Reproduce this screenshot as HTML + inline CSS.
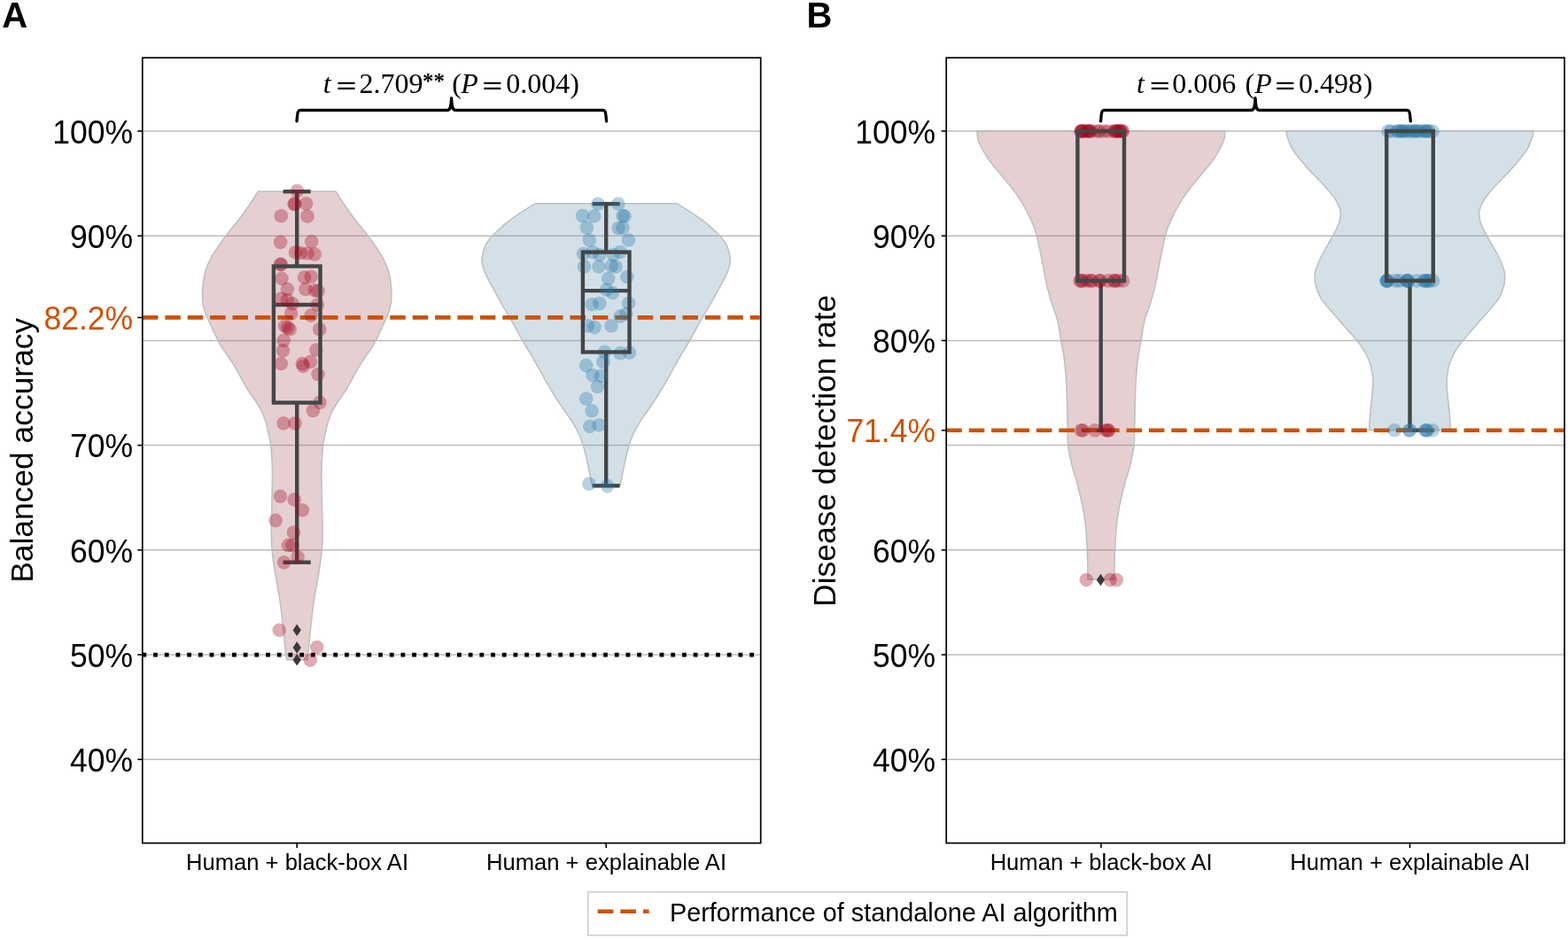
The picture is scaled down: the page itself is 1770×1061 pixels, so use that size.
<!DOCTYPE html><html><head><meta charset="utf-8"><title>Figure</title><style>html,body{margin:0;padding:0;background:#fff;overflow:hidden;width:1770px;height:1061px;}svg{display:block;}</style></head><body>
<svg width="1770" height="1061" viewBox="0 0 1770 1061">
<rect width="1770" height="1061" fill="#fff"/>
<g stroke="#bcbcbc" stroke-width="1.5"><line x1="161.8" y1="857.20" x2="857.7" y2="857.20"/><line x1="161.8" y1="739.00" x2="857.7" y2="739.00"/><line x1="161.8" y1="620.80" x2="857.7" y2="620.80"/><line x1="161.8" y1="502.60" x2="857.7" y2="502.60"/><line x1="161.8" y1="384.40" x2="857.7" y2="384.40"/><line x1="161.8" y1="266.20" x2="857.7" y2="266.20"/><line x1="161.8" y1="148.00" x2="857.7" y2="148.00"/></g>
<path d="M291.40,216.00 C289.85,218.40 285.70,225.17 282.10,230.40 C278.50,235.63 274.25,241.53 269.80,247.40 C265.35,253.27 259.65,259.95 255.40,265.60 C251.15,271.25 247.18,277.02 244.30,281.30 C241.42,285.58 239.98,287.75 238.10,291.30 C236.22,294.85 234.32,298.83 233.00,302.60 C231.68,306.37 230.90,310.13 230.20,313.90 C229.50,317.67 229.08,321.98 228.80,325.20 C228.52,328.42 228.47,330.37 228.50,333.20 C228.53,336.03 228.43,338.82 229.00,342.20 C229.57,345.58 230.57,349.73 231.90,353.50 C233.23,357.27 235.30,361.02 237.00,364.80 C238.70,368.58 240.60,372.98 242.10,376.20 C243.60,379.42 244.50,381.28 246.00,384.10 C247.50,386.92 249.17,390.07 251.10,393.10 C253.03,396.13 255.20,398.73 257.60,402.30 C260.00,405.87 263.05,410.42 265.50,414.50 C267.95,418.58 270.05,422.72 272.30,426.80 C274.55,430.88 276.45,434.92 279.00,439.00 C281.55,443.08 284.93,447.22 287.60,451.30 C290.27,455.38 292.95,459.42 295.00,463.50 C297.05,467.58 298.58,471.72 299.90,475.80 C301.22,479.88 301.98,483.92 302.90,488.00 C303.82,492.08 304.78,496.22 305.40,500.30 C306.02,504.38 306.27,507.55 306.60,512.50 C306.93,517.45 307.28,523.67 307.40,530.00 C307.52,536.33 307.43,542.05 307.30,550.50 C307.17,558.95 306.77,572.45 306.60,580.70 C306.43,588.95 306.23,593.52 306.30,600.00 C306.37,606.48 306.33,612.07 307.00,619.60 C307.67,627.13 308.87,635.90 310.30,645.20 C311.73,654.50 314.08,665.33 315.60,675.40 C317.12,685.47 318.27,695.55 319.40,705.60 C320.53,715.65 321.70,729.17 322.40,735.70 C323.10,742.23 323.40,743.28 323.60,744.80 L346.80,744.80 C347.00,743.28 347.30,742.23 348.00,735.70 C348.70,729.17 349.87,715.65 351.00,705.60 C352.13,695.55 353.28,685.47 354.80,675.40 C356.32,665.33 358.67,654.50 360.10,645.20 C361.53,635.90 362.73,627.13 363.40,619.60 C364.07,612.07 364.03,606.48 364.10,600.00 C364.17,593.52 363.97,588.95 363.80,580.70 C363.63,572.45 363.23,558.95 363.10,550.50 C362.97,542.05 362.88,536.33 363.00,530.00 C363.12,523.67 363.47,517.45 363.80,512.50 C364.13,507.55 364.38,504.38 365.00,500.30 C365.62,496.22 366.58,492.08 367.50,488.00 C368.42,483.92 369.18,479.88 370.50,475.80 C371.82,471.72 373.35,467.58 375.40,463.50 C377.45,459.42 380.13,455.38 382.80,451.30 C385.47,447.22 388.85,443.08 391.40,439.00 C393.95,434.92 395.85,430.88 398.10,426.80 C400.35,422.72 402.45,418.58 404.90,414.50 C407.35,410.42 410.40,405.87 412.80,402.30 C415.20,398.73 417.37,396.13 419.30,393.10 C421.23,390.07 422.90,386.92 424.40,384.10 C425.90,381.28 426.80,379.42 428.30,376.20 C429.80,372.98 431.70,368.58 433.40,364.80 C435.10,361.02 437.17,357.27 438.50,353.50 C439.83,349.73 440.83,345.58 441.40,342.20 C441.97,338.82 441.87,336.03 441.90,333.20 C441.93,330.37 441.88,328.42 441.60,325.20 C441.32,321.98 440.90,317.67 440.20,313.90 C439.50,310.13 438.72,306.37 437.40,302.60 C436.08,298.83 434.18,294.85 432.30,291.30 C430.42,287.75 428.98,285.58 426.10,281.30 C423.22,277.02 419.25,271.25 415.00,265.60 C410.75,259.95 405.05,253.27 400.60,247.40 C396.15,241.53 391.90,235.63 388.30,230.40 C384.70,225.17 380.55,218.40 379.00,216.00 Z" fill="rgb(170,95,102)" fill-opacity="0.30" stroke="#bfc1c1" stroke-width="1.6"/>
<path d="M603.90,229.80 C599.18,232.88 583.62,242.23 575.60,248.30 C567.58,254.37 560.37,261.48 555.80,266.20 C551.23,270.92 550.15,272.35 548.20,276.60 C546.25,280.85 544.42,286.98 544.10,291.70 C543.78,296.42 544.35,299.55 546.30,304.90 C548.25,310.25 552.50,317.52 555.80,323.80 C559.10,330.08 562.80,336.78 566.10,342.60 C569.40,348.42 571.67,351.77 575.60,358.70 C579.53,365.63 585.75,377.32 589.70,384.20 C593.65,391.08 596.28,394.85 599.30,400.00 C602.32,405.15 605.00,410.07 607.80,415.10 C610.60,420.13 613.20,425.18 616.10,430.20 C619.00,435.22 622.05,440.18 625.20,445.20 C628.35,450.22 631.62,455.27 635.00,460.30 C638.38,465.33 642.37,470.37 645.50,475.40 C648.63,480.43 651.67,485.98 653.80,490.50 C655.93,495.02 656.80,497.48 658.30,502.50 C659.80,507.52 661.53,515.07 662.80,520.60 C664.07,526.13 664.95,531.22 665.90,535.70 C666.85,540.18 668.07,545.53 668.50,547.50 L699.90,547.50 C700.33,545.53 701.55,540.18 702.50,535.70 C703.45,531.22 704.33,526.13 705.60,520.60 C706.87,515.07 708.60,507.52 710.10,502.50 C711.60,497.48 712.47,495.02 714.60,490.50 C716.73,485.98 719.77,480.43 722.90,475.40 C726.03,470.37 730.02,465.33 733.40,460.30 C736.78,455.27 740.05,450.22 743.20,445.20 C746.35,440.18 749.40,435.22 752.30,430.20 C755.20,425.18 757.80,420.13 760.60,415.10 C763.40,410.07 766.08,405.15 769.10,400.00 C772.12,394.85 774.75,391.08 778.70,384.20 C782.65,377.32 788.87,365.63 792.80,358.70 C796.73,351.77 799.00,348.42 802.30,342.60 C805.60,336.78 809.30,330.08 812.60,323.80 C815.90,317.52 820.15,310.25 822.10,304.90 C824.05,299.55 824.62,296.42 824.30,291.70 C823.98,286.98 822.15,280.85 820.20,276.60 C818.25,272.35 817.17,270.92 812.60,266.20 C808.03,261.48 800.82,254.37 792.80,248.30 C784.78,242.23 769.22,232.88 764.50,229.80 Z" fill="rgb(108,152,178)" fill-opacity="0.30" stroke="#bfc1c1" stroke-width="1.6"/>
<line x1="160.4" y1="739.20" x2="858.7" y2="739.20" stroke="#000" stroke-width="4.8" stroke-dasharray="4.8 7.9"/>
<g stroke="#434646" stroke-width="4.40" stroke-linecap="butt" stroke-linejoin="miter"><line x1="335.20" y1="216.20" x2="335.20" y2="300.50"/><line x1="319.70" y1="216.20" x2="350.70" y2="216.20"/><line x1="335.20" y1="454.50" x2="335.20" y2="634.70"/><line x1="319.70" y1="634.70" x2="350.70" y2="634.70"/><line x1="308.90" y1="344.00" x2="361.50" y2="344.00"/></g>
<g stroke="#434646" stroke-width="4.40" stroke-linecap="butt" stroke-linejoin="miter"><line x1="684.20" y1="230.10" x2="684.20" y2="284.60"/><line x1="668.70" y1="230.10" x2="699.70" y2="230.10"/><line x1="684.20" y1="397.40" x2="684.20" y2="548.30"/><line x1="668.70" y1="548.30" x2="699.70" y2="548.30"/><line x1="657.90" y1="328.10" x2="710.50" y2="328.10"/></g>
<line x1="160.9" y1="358.40" x2="857.7" y2="358.40" stroke="#cd5203" stroke-width="4.6" stroke-dasharray="17.5 7.9"/>
<path d="M335.20,704.50 L339.80,711.30 L335.20,718.10 L330.60,711.30 Z" fill="#3a3a3a"/>
<path d="M335.20,724.10 L339.80,730.90 L335.20,737.70 L330.60,730.90 Z" fill="#3a3a3a"/>
<path d="M335.20,738.00 L339.80,744.80 L335.20,751.60 L330.60,744.80 Z" fill="#3a3a3a"/>
<g fill="rgb(162,2,28)" fill-opacity="0.33"><circle cx="335.4" cy="215.5" r="7.8"/><circle cx="332.2" cy="230.4" r="7.8"/><circle cx="332.6" cy="230.0" r="7.8"/><circle cx="345.6" cy="229.7" r="7.8"/><circle cx="317.3" cy="243.8" r="7.8"/><circle cx="347.0" cy="244.1" r="7.8"/><circle cx="316.6" cy="273.4" r="7.8"/><circle cx="351.7" cy="272.7" r="7.8"/><circle cx="333.6" cy="284.7" r="7.8"/><circle cx="339.5" cy="285.5" r="7.8"/><circle cx="347.0" cy="286.0" r="7.8"/><circle cx="355.2" cy="286.9" r="7.8"/><circle cx="316.6" cy="298.2" r="7.8"/><circle cx="317.2" cy="298.6" r="7.8"/><circle cx="318.0" cy="314.4" r="7.8"/><circle cx="343.5" cy="313.0" r="7.8"/><circle cx="351.2" cy="312.3" r="7.8"/><circle cx="324.4" cy="326.4" r="7.8"/><circle cx="344.9" cy="326.4" r="7.8"/><circle cx="355.5" cy="327.8" r="7.8"/><circle cx="359.0" cy="328.5" r="7.8"/><circle cx="317.3" cy="337.1" r="7.8"/><circle cx="324.4" cy="338.5" r="7.8"/><circle cx="330.0" cy="342.7" r="7.8"/><circle cx="358.3" cy="344.1" r="7.8"/><circle cx="328.6" cy="354.0" r="7.8"/><circle cx="351.2" cy="356.1" r="7.8"/><circle cx="321.6" cy="368.1" r="7.8"/><circle cx="324.7" cy="369.7" r="7.8"/><circle cx="327.2" cy="371.7" r="7.8"/><circle cx="360.8" cy="371.7" r="7.8"/><circle cx="320.2" cy="384.4" r="7.8"/><circle cx="319.5" cy="395.7" r="7.8"/><circle cx="356.9" cy="395.0" r="7.8"/><circle cx="317.3" cy="410.5" r="7.8"/><circle cx="341.4" cy="410.5" r="7.8"/><circle cx="342.3" cy="413.3" r="7.8"/><circle cx="350.5" cy="408.4" r="7.8"/><circle cx="359.0" cy="422.5" r="7.8"/><circle cx="361.1" cy="454.3" r="7.8"/><circle cx="353.4" cy="463.5" r="7.8"/><circle cx="320.1" cy="477.8" r="7.8"/><circle cx="333.0" cy="477.8" r="7.8"/><circle cx="316.4" cy="560.3" r="7.8"/><circle cx="332.2" cy="564.1" r="7.8"/><circle cx="341.3" cy="575.8" r="7.8"/><circle cx="311.1" cy="587.4" r="7.8"/><circle cx="331.4" cy="601.0" r="7.8"/><circle cx="325.4" cy="615.4" r="7.8"/><circle cx="330.0" cy="615.4" r="7.8"/><circle cx="336.0" cy="628.7" r="7.8"/><circle cx="320.6" cy="634.7" r="7.8"/><circle cx="315.2" cy="711.3" r="7.8"/><circle cx="357.8" cy="730.5" r="7.8"/><circle cx="350.3" cy="745.1" r="7.8"/></g>
<g fill="rgb(35,118,168)" fill-opacity="0.33"><circle cx="675.0" cy="230.1" r="7.8"/><circle cx="697.8" cy="230.1" r="7.8"/><circle cx="657.6" cy="243.6" r="7.8"/><circle cx="670.7" cy="244.0" r="7.8"/><circle cx="703.0" cy="243.6" r="7.8"/><circle cx="705.0" cy="244.0" r="7.8"/><circle cx="662.4" cy="257.1" r="7.8"/><circle cx="698.1" cy="257.5" r="7.8"/><circle cx="703.0" cy="257.1" r="7.8"/><circle cx="665.3" cy="271.0" r="7.8"/><circle cx="709.4" cy="271.0" r="7.8"/><circle cx="658.5" cy="286.5" r="7.8"/><circle cx="669.2" cy="284.6" r="7.8"/><circle cx="676.9" cy="287.5" r="7.8"/><circle cx="692.3" cy="287.5" r="7.8"/><circle cx="700.1" cy="284.6" r="7.8"/><circle cx="659.5" cy="301.0" r="7.8"/><circle cx="675.9" cy="301.0" r="7.8"/><circle cx="690.4" cy="300.0" r="7.8"/><circle cx="695.2" cy="301.0" r="7.8"/><circle cx="707.8" cy="312.6" r="7.8"/><circle cx="686.6" cy="314.5" r="7.8"/><circle cx="684.6" cy="327.1" r="7.8"/><circle cx="691.4" cy="330.6" r="7.8"/><circle cx="668.2" cy="343.5" r="7.8"/><circle cx="676.9" cy="342.6" r="7.8"/><circle cx="709.7" cy="342.2" r="7.8"/><circle cx="700.1" cy="357.1" r="7.8"/><circle cx="706.8" cy="354.2" r="7.8"/><circle cx="663.4" cy="367.7" r="7.8"/><circle cx="671.1" cy="369.6" r="7.8"/><circle cx="690.0" cy="367.7" r="7.8"/><circle cx="682.5" cy="397.2" r="7.8"/><circle cx="700.1" cy="398.8" r="7.8"/><circle cx="710.5" cy="398.0" r="7.8"/><circle cx="680.9" cy="408.4" r="7.8"/><circle cx="661.7" cy="412.4" r="7.8"/><circle cx="668.9" cy="423.6" r="7.8"/><circle cx="678.5" cy="424.4" r="7.8"/><circle cx="674.5" cy="436.5" r="7.8"/><circle cx="661.7" cy="450.1" r="7.8"/><circle cx="668.1" cy="463.7" r="7.8"/><circle cx="665.7" cy="481.3" r="7.8"/><circle cx="676.1" cy="479.7" r="7.8"/><circle cx="664.9" cy="546.2" r="7.8"/><circle cx="685.7" cy="548.6" r="7.8"/></g>
<g stroke="#434646" stroke-width="4.40" stroke-linejoin="miter"><rect x="308.90" y="300.50" width="52.60" height="154.00" fill="none"/></g>
<g stroke="#434646" stroke-width="4.40" stroke-linejoin="miter"><rect x="657.90" y="284.60" width="52.60" height="112.80" fill="none"/></g>
<rect x="160.80" y="65.20" width="697.90" height="886.40" fill="none" stroke="#000" stroke-width="1.7"/>
<g stroke="#000" stroke-width="1.6"><line x1="155.3" y1="857.20" x2="160.8" y2="857.20"/><line x1="155.3" y1="739.00" x2="160.8" y2="739.00"/><line x1="155.3" y1="620.80" x2="160.8" y2="620.80"/><line x1="155.3" y1="502.60" x2="160.8" y2="502.60"/><line x1="155.3" y1="266.20" x2="160.8" y2="266.20"/><line x1="155.3" y1="148.00" x2="160.8" y2="148.00"/><line x1="155.3" y1="358.40" x2="160.8" y2="358.40"/><line x1="335.20" y1="951.60" x2="335.20" y2="957.10"/><line x1="684.20" y1="951.60" x2="684.20" y2="957.10"/></g>
<g font-family="'Liberation Sans', Arial, Helvetica, sans-serif" font-size="35.5" text-anchor="end" fill="#000"><text transform="translate(150.1,870.90) scale(1,1.065)">40%</text><text transform="translate(150.1,752.70) scale(1,1.065)">50%</text><text transform="translate(150.1,634.50) scale(1,1.065)">60%</text><text transform="translate(150.1,516.30) scale(1,1.065)">70%</text><text transform="translate(150.1,279.90) scale(1,1.065)">90%</text><text transform="translate(150.1,161.70) scale(1,1.065)">100%</text></g>
<text transform="translate(150.1,372.10) scale(1,1.065)" font-family="'Liberation Sans', Arial, Helvetica, sans-serif" font-size="35.5" text-anchor="end" fill="#cd5203">82.2%</text>
<g font-family="'Liberation Sans', Arial, Helvetica, sans-serif" font-size="25.6" text-anchor="middle" fill="#000"><text x="335.5" y="982.0">Human + black-box AI</text><text x="684.5" y="982.0">Human + explainable AI</text></g>
<text transform="translate(36.9,508.3) rotate(-90)" font-family="'Liberation Sans', Arial, Helvetica, sans-serif" font-size="35.4" text-anchor="middle" fill="#000">Balanced accuracy</text>
<text x="2.2" y="31.4" font-family="'Liberation Sans', Arial, Helvetica, sans-serif" font-size="40" font-weight="bold" fill="#000">A</text>
<g stroke="#bcbcbc" stroke-width="1.5"><line x1="1069.2" y1="857.20" x2="1765.0" y2="857.20"/><line x1="1069.2" y1="739.00" x2="1765.0" y2="739.00"/><line x1="1069.2" y1="620.80" x2="1765.0" y2="620.80"/><line x1="1069.2" y1="502.60" x2="1765.0" y2="502.60"/><line x1="1069.2" y1="384.40" x2="1765.0" y2="384.40"/><line x1="1069.2" y1="266.20" x2="1765.0" y2="266.20"/><line x1="1069.2" y1="148.00" x2="1765.0" y2="148.00"/></g>
<path d="M1102.90,147.80 C1103.22,149.78 1102.67,154.42 1104.80,159.70 C1106.93,164.98 1111.23,172.90 1115.70,179.50 C1120.17,186.10 1126.32,192.70 1131.60,199.30 C1136.88,205.90 1142.78,212.50 1147.40,219.10 C1152.02,225.70 1155.83,232.30 1159.30,238.90 C1162.77,245.50 1165.90,252.10 1168.20,258.70 C1170.50,265.30 1171.62,271.92 1173.10,278.50 C1174.58,285.08 1175.82,291.62 1177.10,298.20 C1178.38,304.78 1179.23,311.03 1180.80,318.00 C1182.37,324.97 1184.32,332.63 1186.50,340.00 C1188.68,347.37 1192.05,354.87 1193.90,362.20 C1195.75,369.53 1196.38,377.10 1197.60,384.00 C1198.82,390.90 1200.27,396.87 1201.20,403.60 C1202.13,410.33 1202.68,417.48 1203.20,424.40 C1203.72,431.32 1204.05,438.20 1204.30,445.10 C1204.55,452.00 1204.53,458.88 1204.70,465.80 C1204.87,472.72 1205.13,480.48 1205.30,486.60 C1205.47,492.72 1204.88,495.97 1205.70,502.50 C1206.52,509.03 1208.57,518.93 1210.20,525.80 C1211.83,532.67 1213.87,537.72 1215.50,543.70 C1217.13,549.68 1218.65,555.72 1220.00,561.70 C1221.35,567.68 1222.62,573.63 1223.60,579.60 C1224.58,585.57 1225.30,590.63 1225.90,597.50 C1226.50,604.37 1226.90,614.83 1227.20,620.80 C1227.50,626.77 1227.57,627.78 1227.70,633.30 C1227.83,638.82 1227.95,650.47 1228.00,653.90 L1257.80,653.90 C1257.85,650.47 1257.97,638.82 1258.10,633.30 C1258.23,627.78 1258.30,626.77 1258.60,620.80 C1258.90,614.83 1259.30,604.37 1259.90,597.50 C1260.50,590.63 1261.22,585.57 1262.20,579.60 C1263.18,573.63 1264.45,567.68 1265.80,561.70 C1267.15,555.72 1268.67,549.68 1270.30,543.70 C1271.93,537.72 1273.97,532.67 1275.60,525.80 C1277.23,518.93 1279.28,509.03 1280.10,502.50 C1280.92,495.97 1280.33,492.72 1280.50,486.60 C1280.67,480.48 1280.93,472.72 1281.10,465.80 C1281.27,458.88 1281.25,452.00 1281.50,445.10 C1281.75,438.20 1282.08,431.32 1282.60,424.40 C1283.12,417.48 1283.67,410.33 1284.60,403.60 C1285.53,396.87 1286.98,390.90 1288.20,384.00 C1289.42,377.10 1290.05,369.53 1291.90,362.20 C1293.75,354.87 1297.12,347.37 1299.30,340.00 C1301.48,332.63 1303.43,324.97 1305.00,318.00 C1306.57,311.03 1307.42,304.78 1308.70,298.20 C1309.98,291.62 1311.22,285.08 1312.70,278.50 C1314.18,271.92 1315.30,265.30 1317.60,258.70 C1319.90,252.10 1323.03,245.50 1326.50,238.90 C1329.97,232.30 1333.78,225.70 1338.40,219.10 C1343.02,212.50 1348.92,205.90 1354.20,199.30 C1359.48,192.70 1365.63,186.10 1370.10,179.50 C1374.57,172.90 1378.87,164.98 1381.00,159.70 C1383.13,154.42 1382.58,149.78 1382.90,147.80 Z" fill="rgb(170,95,102)" fill-opacity="0.30" stroke="#bfc1c1" stroke-width="1.6"/>
<path d="M1452.30,147.80 C1452.40,148.78 1451.65,150.07 1452.90,153.70 C1454.15,157.33 1456.02,163.65 1459.80,169.60 C1463.58,175.55 1469.83,182.80 1475.60,189.40 C1481.37,196.00 1489.12,203.27 1494.40,209.20 C1499.68,215.13 1504.17,220.07 1507.30,225.00 C1510.43,229.93 1512.55,234.18 1513.20,238.80 C1513.85,243.42 1512.85,247.75 1511.20,252.70 C1509.55,257.65 1506.63,262.28 1503.30,268.50 C1499.97,274.72 1494.17,284.07 1491.20,290.00 C1488.23,295.93 1486.68,300.10 1485.50,304.10 C1484.32,308.10 1483.98,310.47 1484.10,314.00 C1484.22,317.53 1485.02,321.53 1486.20,325.30 C1487.38,329.07 1488.72,332.60 1491.20,336.60 C1493.68,340.60 1497.80,345.30 1501.10,349.30 C1504.40,353.30 1507.72,356.83 1511.00,360.60 C1514.28,364.37 1517.52,368.13 1520.80,371.90 C1524.08,375.67 1527.63,379.43 1530.70,383.20 C1533.77,386.97 1536.83,390.73 1539.20,394.50 C1541.57,398.27 1543.37,402.03 1544.90,405.80 C1546.43,409.57 1547.58,412.87 1548.40,417.10 C1549.22,421.33 1549.70,426.50 1549.80,431.20 C1549.90,435.90 1549.47,439.97 1549.00,445.30 C1548.53,450.63 1547.55,457.23 1547.00,463.20 C1546.45,469.17 1545.95,477.37 1545.70,481.10 C1545.45,484.83 1545.53,484.85 1545.50,485.60 L1637.50,485.60 C1637.47,484.85 1637.55,484.83 1637.30,481.10 C1637.05,477.37 1636.55,469.17 1636.00,463.20 C1635.45,457.23 1634.47,450.63 1634.00,445.30 C1633.53,439.97 1633.10,435.90 1633.20,431.20 C1633.30,426.50 1633.78,421.33 1634.60,417.10 C1635.42,412.87 1636.57,409.57 1638.10,405.80 C1639.63,402.03 1641.43,398.27 1643.80,394.50 C1646.17,390.73 1649.23,386.97 1652.30,383.20 C1655.37,379.43 1658.92,375.67 1662.20,371.90 C1665.48,368.13 1668.72,364.37 1672.00,360.60 C1675.28,356.83 1678.60,353.30 1681.90,349.30 C1685.20,345.30 1689.32,340.60 1691.80,336.60 C1694.28,332.60 1695.62,329.07 1696.80,325.30 C1697.98,321.53 1698.78,317.53 1698.90,314.00 C1699.02,310.47 1698.68,308.10 1697.50,304.10 C1696.32,300.10 1694.77,295.93 1691.80,290.00 C1688.83,284.07 1683.03,274.72 1679.70,268.50 C1676.37,262.28 1673.45,257.65 1671.80,252.70 C1670.15,247.75 1669.15,243.42 1669.80,238.80 C1670.45,234.18 1672.57,229.93 1675.70,225.00 C1678.83,220.07 1683.32,215.13 1688.60,209.20 C1693.88,203.27 1701.63,196.00 1707.40,189.40 C1713.17,182.80 1719.42,175.55 1723.20,169.60 C1726.98,163.65 1728.85,157.33 1730.10,153.70 C1731.35,150.07 1730.60,148.78 1730.70,147.80 Z" fill="rgb(108,152,178)" fill-opacity="0.30" stroke="#bfc1c1" stroke-width="1.6"/>
<g stroke="#434646" stroke-width="4.40" stroke-linecap="butt" stroke-linejoin="miter"><line x1="1242.70" y1="316.86" x2="1242.70" y2="485.71"/><line x1="1227.20" y1="485.71" x2="1258.20" y2="485.71"/></g>
<g stroke="#434646" stroke-width="4.40" stroke-linecap="butt" stroke-linejoin="miter"><line x1="1591.50" y1="316.86" x2="1591.50" y2="485.71"/><line x1="1576.00" y1="485.71" x2="1607.00" y2="485.71"/></g>
<line x1="1068.3" y1="485.71" x2="1765.0" y2="485.71" stroke="#cd5203" stroke-width="4.6" stroke-dasharray="17.5 7.9"/>
<path d="M1242.40,647.77 L1247.00,654.57 L1242.40,661.37 L1237.80,654.57 Z" fill="#3a3a3a"/>
<g fill="rgb(162,2,28)" fill-opacity="0.33"><circle cx="1220.0" cy="148.0" r="7.8"/><circle cx="1220.5" cy="148.0" r="7.8"/><circle cx="1221.0" cy="148.0" r="7.8"/><circle cx="1222.0" cy="148.0" r="7.8"/><circle cx="1224.0" cy="148.0" r="7.8"/><circle cx="1226.5" cy="148.0" r="7.8"/><circle cx="1228.5" cy="148.0" r="7.8"/><circle cx="1229.5" cy="148.0" r="7.8"/><circle cx="1230.0" cy="148.0" r="7.8"/><circle cx="1232.0" cy="148.0" r="7.8"/><circle cx="1238.0" cy="148.0" r="7.8"/><circle cx="1241.0" cy="148.0" r="7.8"/><circle cx="1246.0" cy="148.0" r="7.8"/><circle cx="1251.0" cy="148.0" r="7.8"/><circle cx="1257.5" cy="148.0" r="7.8"/><circle cx="1259.0" cy="148.0" r="7.8"/><circle cx="1260.0" cy="148.0" r="7.8"/><circle cx="1261.0" cy="148.0" r="7.8"/><circle cx="1263.0" cy="148.0" r="7.8"/><circle cx="1264.0" cy="148.0" r="7.8"/><circle cx="1265.0" cy="148.0" r="7.8"/><circle cx="1266.5" cy="148.0" r="7.8"/><circle cx="1267.5" cy="148.0" r="7.8"/><circle cx="1219.0" cy="316.9" r="7.8"/><circle cx="1220.5" cy="316.9" r="7.8"/><circle cx="1222.0" cy="316.9" r="7.8"/><circle cx="1227.0" cy="316.9" r="7.8"/><circle cx="1231.5" cy="316.9" r="7.8"/><circle cx="1232.5" cy="316.9" r="7.8"/><circle cx="1241.0" cy="316.9" r="7.8"/><circle cx="1242.0" cy="316.9" r="7.8"/><circle cx="1250.8" cy="316.9" r="7.8"/><circle cx="1257.5" cy="316.9" r="7.8"/><circle cx="1258.5" cy="316.9" r="7.8"/><circle cx="1262.0" cy="316.9" r="7.8"/><circle cx="1267.6" cy="316.9" r="7.8"/><circle cx="1220.5" cy="485.7" r="7.8"/><circle cx="1222.5" cy="485.7" r="7.8"/><circle cx="1236.0" cy="485.7" r="7.8"/><circle cx="1248.5" cy="485.7" r="7.8"/><circle cx="1250.5" cy="485.7" r="7.8"/><circle cx="1251.5" cy="485.7" r="7.8"/><circle cx="1226.3" cy="654.6" r="7.8"/><circle cx="1253.2" cy="654.6" r="7.8"/><circle cx="1260.3" cy="654.6" r="7.8"/></g>
<g fill="rgb(35,118,168)" fill-opacity="0.33"><circle cx="1567.0" cy="148.0" r="7.8"/><circle cx="1570.2" cy="148.0" r="7.8"/><circle cx="1577.0" cy="148.0" r="7.8"/><circle cx="1578.0" cy="148.0" r="7.8"/><circle cx="1581.7" cy="148.0" r="7.8"/><circle cx="1582.5" cy="148.0" r="7.8"/><circle cx="1584.0" cy="148.0" r="7.8"/><circle cx="1587.0" cy="148.0" r="7.8"/><circle cx="1590.0" cy="148.0" r="7.8"/><circle cx="1592.0" cy="148.0" r="7.8"/><circle cx="1596.0" cy="148.0" r="7.8"/><circle cx="1597.5" cy="148.0" r="7.8"/><circle cx="1598.5" cy="148.0" r="7.8"/><circle cx="1602.0" cy="148.0" r="7.8"/><circle cx="1604.0" cy="148.0" r="7.8"/><circle cx="1608.5" cy="148.0" r="7.8"/><circle cx="1609.5" cy="148.0" r="7.8"/><circle cx="1611.0" cy="148.0" r="7.8"/><circle cx="1613.0" cy="148.0" r="7.8"/><circle cx="1617.0" cy="148.0" r="7.8"/><circle cx="1565.0" cy="316.9" r="7.8"/><circle cx="1565.3" cy="316.9" r="7.8"/><circle cx="1565.8" cy="316.9" r="7.8"/><circle cx="1566.5" cy="316.9" r="7.8"/><circle cx="1575.5" cy="316.9" r="7.8"/><circle cx="1580.0" cy="316.9" r="7.8"/><circle cx="1588.0" cy="316.9" r="7.8"/><circle cx="1588.4" cy="316.9" r="7.8"/><circle cx="1588.9" cy="316.9" r="7.8"/><circle cx="1589.5" cy="316.9" r="7.8"/><circle cx="1599.0" cy="316.9" r="7.8"/><circle cx="1607.6" cy="316.9" r="7.8"/><circle cx="1608.0" cy="316.9" r="7.8"/><circle cx="1610.0" cy="316.9" r="7.8"/><circle cx="1612.5" cy="316.9" r="7.8"/><circle cx="1613.2" cy="316.9" r="7.8"/><circle cx="1617.5" cy="316.9" r="7.8"/><circle cx="1574.2" cy="485.7" r="7.8"/><circle cx="1590.8" cy="485.7" r="7.8"/><circle cx="1591.4" cy="485.7" r="7.8"/><circle cx="1609.0" cy="485.7" r="7.8"/><circle cx="1610.0" cy="485.7" r="7.8"/><circle cx="1611.0" cy="485.7" r="7.8"/><circle cx="1617.0" cy="485.7" r="7.8"/></g>
<g stroke="#434646" stroke-width="4.40" stroke-linejoin="miter"><rect x="1216.40" y="148.00" width="52.60" height="168.86" fill="none"/></g>
<g stroke="#434646" stroke-width="4.40" stroke-linejoin="miter"><rect x="1565.20" y="148.00" width="52.60" height="168.86" fill="none"/></g>
<rect x="1068.20" y="65.20" width="697.80" height="886.40" fill="none" stroke="#000" stroke-width="1.7"/>
<g stroke="#000" stroke-width="1.6"><line x1="1062.7" y1="857.20" x2="1068.2" y2="857.20"/><line x1="1062.7" y1="739.00" x2="1068.2" y2="739.00"/><line x1="1062.7" y1="620.80" x2="1068.2" y2="620.80"/><line x1="1062.7" y1="384.40" x2="1068.2" y2="384.40"/><line x1="1062.7" y1="266.20" x2="1068.2" y2="266.20"/><line x1="1062.7" y1="148.00" x2="1068.2" y2="148.00"/><line x1="1062.7" y1="485.71" x2="1068.2" y2="485.71"/><line x1="1242.90" y1="951.60" x2="1242.90" y2="957.10"/><line x1="1591.50" y1="951.60" x2="1591.50" y2="957.10"/></g>
<g font-family="'Liberation Sans', Arial, Helvetica, sans-serif" font-size="35.5" text-anchor="end" fill="#000"><text transform="translate(1056.0,870.90) scale(1,1.065)">40%</text><text transform="translate(1056.0,752.70) scale(1,1.065)">50%</text><text transform="translate(1056.0,634.50) scale(1,1.065)">60%</text><text transform="translate(1056.0,398.10) scale(1,1.065)">80%</text><text transform="translate(1056.0,279.90) scale(1,1.065)">90%</text><text transform="translate(1056.0,161.70) scale(1,1.065)">100%</text></g>
<text transform="translate(1056.0,499.41) scale(1,1.065)" font-family="'Liberation Sans', Arial, Helvetica, sans-serif" font-size="35.5" text-anchor="end" fill="#cd5203">71.4%</text>
<g font-family="'Liberation Sans', Arial, Helvetica, sans-serif" font-size="25.6" text-anchor="middle" fill="#000"><text x="1243.2" y="982.0">Human + black-box AI</text><text x="1591.8" y="982.0">Human + explainable AI</text></g>
<text transform="translate(942.7,508.8) rotate(-90)" font-family="'Liberation Sans', Arial, Helvetica, sans-serif" font-size="35.4" text-anchor="middle" fill="#000">Disease detection rate</text>
<text x="910.6" y="31.4" font-family="'Liberation Sans', Arial, Helvetica, sans-serif" font-size="40" font-weight="bold" fill="#000">B</text>
<path d="M335.00,136.90 L335.70,129.90 C336.00,125.90 336.80,124.40 339.00,124.40 L505.10,124.40 C508.10,124.40 509.20,120.40 509.60,110.60 C510.00,120.40 511.10,124.40 514.10,124.40 L680.60,124.40 C682.80,124.40 683.60,125.90 683.90,129.90 L684.60,136.90" fill="none" stroke="#000" stroke-width="3.3" stroke-linecap="round" stroke-linejoin="round"/>
<path d="M1242.50,136.90 L1243.20,129.90 C1243.50,125.90 1244.30,124.40 1246.50,124.40 L1412.50,124.40 C1415.50,124.40 1416.60,120.40 1417.00,110.60 C1417.40,120.40 1418.50,124.40 1421.50,124.40 L1588.30,124.40 C1590.50,124.40 1591.30,125.90 1591.60,129.90 L1592.30,136.90" fill="none" stroke="#000" stroke-width="3.3" stroke-linecap="round" stroke-linejoin="round"/>
<text x="364.8" y="104.6" font-family="'Liberation Serif', 'Times New Roman', serif" font-size="32.0" font-style="italic" fill="#000">t</text>
<text x="378.2" y="106.0" font-family="DejaVu Serif, serif" font-size="30.5" fill="#000">=</text>
<text x="405.6" y="104.6" font-family="'Liberation Serif', 'Times New Roman', serif" font-size="32.0" fill="#000">2.709</text>
<text x="476.9" y="100.1" font-family="'Liberation Serif', 'Times New Roman', serif" font-size="25.0" font-weight="bold" fill="#000">**</text>
<text x="510.3" y="104.6" font-family="'Liberation Serif', 'Times New Roman', serif" font-size="32.0" fill="#000">(</text>
<text x="520.3" y="104.6" font-family="'Liberation Serif', 'Times New Roman', serif" font-size="32.0" font-style="italic" fill="#000">P</text>
<text x="543.1" y="106.0" font-family="DejaVu Serif, serif" font-size="30.5" fill="#000">=</text>
<text x="571.3" y="104.6" font-family="'Liberation Serif', 'Times New Roman', serif" font-size="32.0" fill="#000">0.004</text>
<text x="643.2" y="104.6" font-family="'Liberation Serif', 'Times New Roman', serif" font-size="32.0" fill="#000">)</text>
<text x="1282.9" y="104.6" font-family="'Liberation Serif', 'Times New Roman', serif" font-size="32.0" font-style="italic" fill="#000">t</text>
<text x="1296.4" y="106.0" font-family="DejaVu Serif, serif" font-size="30.5" fill="#000">=</text>
<text x="1323.3" y="104.6" font-family="'Liberation Serif', 'Times New Roman', serif" font-size="32.0" fill="#000">0.006</text>
<text x="1405.6" y="104.6" font-family="'Liberation Serif', 'Times New Roman', serif" font-size="32.0" fill="#000">(</text>
<text x="1416.3" y="104.6" font-family="'Liberation Serif', 'Times New Roman', serif" font-size="32.0" font-style="italic" fill="#000">P</text>
<text x="1438.1" y="106.0" font-family="DejaVu Serif, serif" font-size="30.5" fill="#000">=</text>
<text x="1465.9" y="104.6" font-family="'Liberation Serif', 'Times New Roman', serif" font-size="32.0" fill="#000">0.498</text>
<text x="1538.7" y="104.6" font-family="'Liberation Serif', 'Times New Roman', serif" font-size="32.0" fill="#000">)</text>
<rect x="663.9" y="1006.8" width="608.3" height="48.9" fill="#fff" stroke="#cccccc" stroke-width="1.6"/>
<line x1="674.7" y1="1028.7" x2="732.6" y2="1028.7" stroke="#cd5203" stroke-width="4.6" stroke-dasharray="17.7 7.9"/>
<text x="756" y="1040.4" font-family="'Liberation Sans', Arial, Helvetica, sans-serif" font-size="28.8" fill="#000">Performance of standalone AI algorithm</text>
</svg></body></html>
